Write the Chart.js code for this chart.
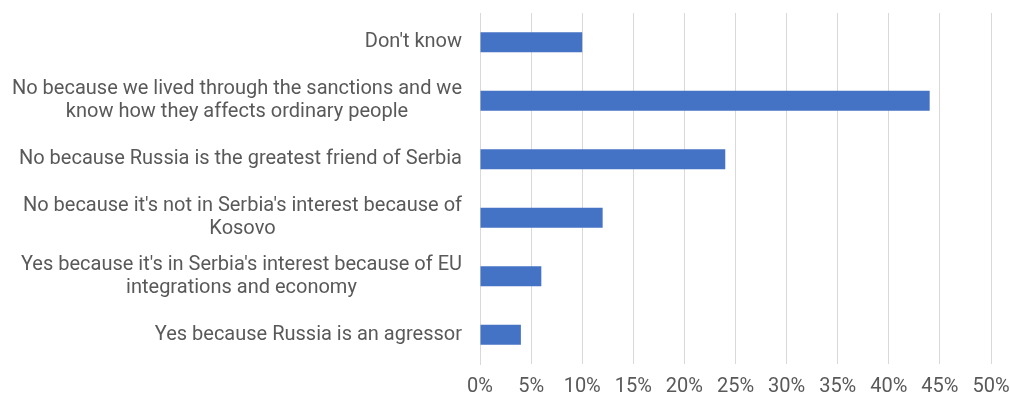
<!DOCTYPE html>
<html>
<head>
<meta charset="utf-8">
<script src="https://cdn.jsdelivr.net/npm/chart.js@4"></script>
<style>
  html, body { margin: 0; padding: 0; background: #fff; }
  #wrap { width: 1010px; height: 398px; }
</style>
</head>
<body>
<div id="wrap"><canvas id="chartAnswers"></canvas></div>
<script>
// answers, top to bottom
const answers = [
  ["Don't know"],
  ['No because we lived through the sanctions and we', 'know how they affects ordinary people'],
  ['No because Russia is the greatest friend of Serbia'],
  ["No because it's not in Serbia's interest because of", 'Kosovo'],
  ["Yes because it's in Serbia's interest because of EU", 'integrations and economy'],
  ['Yes because Russia is an agressor']
];
const shares = [10, 44, 24, 12, 6, 4];
const xTicks = [0, 5, 10, 15, 20, 25, 30, 35, 40, 45, 50];

const FONT = 'Roboto, "Noto Sans", sans-serif';
const TEXT = '#595959';

// draw the y labels ourselves so wrapped lines are centred under each other
const centredLabels = {
  id: 'centredLabels',
  afterDraw(chart) {
    const y = chart.scales.y;
    const ctx = chart.ctx;
    const right = chart.chartArea.left - 18;
    const lineH = 23;
    ctx.save();
    ctx.font = '20px ' + FONT;
    ctx.fillStyle = TEXT;
    ctx.textAlign = 'center';
    ctx.textBaseline = 'middle';
    answers.forEach((lines, i) => {
      const w = Math.max(...lines.map(l => ctx.measureText(l).width));
      const cx = right - w / 2;
      const cy = y.getPixelForTick(i);
      const top = cy - (lines.length - 1) * lineH / 2;
      lines.forEach((l, k) => ctx.fillText(l, cx, top + k * lineH));
    });
    ctx.restore();
  }
};

new Chart(document.getElementById('chartAnswers'), {
  type: 'bar',
  data: {
    labels: answers,
    datasets: [{ data: shares, backgroundColor: '#4472C4', borderWidth: 0,
                 categoryPercentage: 1, barPercentage: 0.342 }]
  },
  options: {
    indexAxis: 'y',
    responsive: true,
    maintainAspectRatio: false,
    animation: false,
    layout: { padding: { top: 13, right: 19, bottom: 0, left: 0 } },
    plugins: { legend: { display: false }, tooltip: { enabled: false } },
    scales: {
      x: {
        min: 0, max: 50,
        afterBuildTicks: (s) => { s.ticks = xTicks.map(v => ({ value: v })); },
        afterFit: (s) => { s.height = 34; s.paddingLeft = 0; s.paddingRight = 0; },
        ticks: { callback: v => v + '%', color: TEXT, font: { family: FONT, size: 20 }, padding: 11, maxRotation: 0 },
        grid: { color: '#D9D9D9', drawTicks: false },
        border: { display: false }
      },
      y: {
        afterFit: (s) => { s.width = 480; s.paddingTop = 0; s.paddingBottom = 0; },
        ticks: { color: 'rgba(0,0,0,0)', font: { family: FONT, size: 1 }, padding: 18 },
        grid: { display: false, drawTicks: false },
        border: { color: '#D9D9D9' }
      }
    }
  },
  plugins: [centredLabels]
});
</script>
</body>
</html>
